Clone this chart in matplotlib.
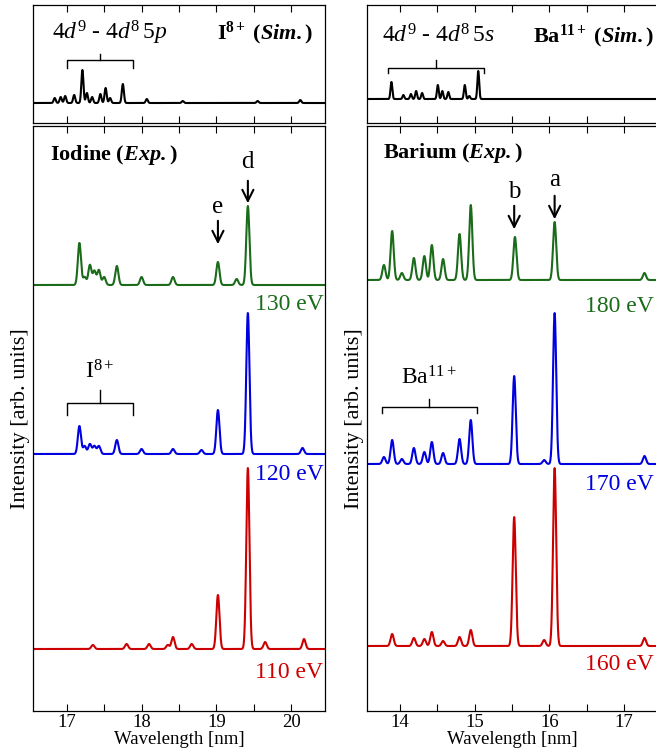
import numpy as np
import matplotlib
matplotlib.use("Agg")
import matplotlib.pyplot as plt
from matplotlib.ticker import MultipleLocator

plt.rcParams['font.family'] = ['Liberation Serif', 'DejaVu Serif']
plt.rcParams['mathtext.fontset'] = 'custom'
plt.rcParams['mathtext.rm'] = 'Liberation Serif'
plt.rcParams['mathtext.it'] = 'Liberation Serif:italic'
plt.rcParams['mathtext.bf'] = 'Liberation Serif:bold'
plt.rcParams['mathtext.bfit'] = 'Liberation Serif:bold:italic'

# --- peak tables (position nm, height in px-like units) ---
iodine_sim_pos = [16.84, 16.92, 16.98, 17.10, 17.21, 17.27, 17.34, 17.45, 17.52, 17.58, 17.75, 18.07, 18.55, 19.55, 20.12]
iodine_sim_amp = [5, 6, 7, 8, 33, 10, 6, 9, 15, 5, 19, 4, 2, 2, 3]

iodine_130_pos = [17.17, 17.24, 17.31, 17.37, 17.43, 17.50, 17.67, 18.00, 18.42, 19.02, 19.27, 19.42]
iodine_130_amp = [42, 8, 20, 14, 15, 8, 19, 8, 8, 23, 6, 79]
iodine_120_pos = [17.17, 17.24, 17.31, 17.37, 17.43, 17.67, 18.00, 18.42, 18.80, 19.02, 19.42, 20.15]
iodine_120_amp = [28, 8, 10, 8, 8, 14, 5, 5, 4, 44, 141, 6]
iodine_110_pos = [17.35, 17.80, 18.10, 18.35, 18.42, 18.67, 19.02, 19.42, 19.65, 20.17]
iodine_110_amp = [4, 5, 5, 4, 12, 5, 54, 181, 7, 10]

barium_sim_pos = [13.89, 14.05, 14.15, 14.22, 14.30, 14.51, 14.57, 14.65, 14.87, 14.93, 15.05]
barium_sim_amp = [17, 4, 5, 8, 6, 14, 8, 7, 14, 3, 28]

barium_180_pos = [13.79, 13.90, 14.03, 14.19, 14.33, 14.43, 14.58, 14.80, 14.95, 15.54, 16.07, 17.27]
barium_180_amp = [15, 49, 7, 22, 24, 35, 21, 46, 75, 43, 58, 7]
barium_170_pos = [13.79, 13.90, 14.03, 14.19, 14.33, 14.43, 14.58, 14.80, 14.95, 15.53, 15.93, 16.07, 17.27]
barium_170_amp = [7, 24, 5, 16, 12, 22, 11, 25, 44, 88, 4, 151, 8]
barium_160_pos = [13.90, 14.19, 14.33, 14.43, 14.58, 14.80, 14.95, 15.53, 15.93, 16.07, 17.27]
barium_160_amp = [12, 8, 7, 14, 5, 9, 16, 129, 6, 178, 8]

energies_I = ['130 eV', '120 eV', '110 eV']
energies_Ba = ['180 eV', '170 eV', '160 eV']
offsets_I = [426, 257, 62]
offsets_Ba = [431, 247, 65]
colors = ['#1a6b1a', '#0000e0', '#cc0000']

ARROW = dict(arrowstyle='->,head_length=0.8,head_width=0.4', lw=1.5, color='k')


def spectrum(x, pos, amp, width):
    y = np.zeros_like(x)
    for p, a in zip(pos, amp):
        y += a * np.exp(-0.5 * ((x - p) / width) ** 2)
    return y


def style(ax, xlim, labels=True):
    ax.set_xlim(*xlim)
    ax.xaxis.set_major_locator(MultipleLocator(1))
    ax.xaxis.set_minor_locator(MultipleLocator(0.5))
    ax.tick_params(axis='x', which='both', direction='in', top=True, bottom=True,
                   length=5, width=0.8, labelsize=13.5, labelbottom=labels, pad=2)
    ax.set_yticks([])
    for s in ax.spines.values():
        s.set_linewidth(0.9)


def bracket(ax, x0, x1, y, drop, rise, lw=1.0):
    xc = (x0 + x1) / 2
    ax.plot([x0, x0, x1, x1], [y - drop, y, y, y - drop], color='k', lw=lw)
    ax.plot([xc, xc], [y, y + rise], color='k', lw=lw)


fig = plt.figure(figsize=(6.56, 7.5), dpi=100)
W = 0.4451
axIt = fig.add_axes([0.0503, 0.836, W, 0.1573])
axI = fig.add_axes([0.0503, 0.052, W, 0.780])
axBt = fig.add_axes([0.559, 0.836, W, 0.1573])
axB = fig.add_axes([0.559, 0.052, W, 0.780])

xI = np.linspace(16.5, 20.5, 2000)
xB = np.linspace(13.5, 17.5, 2000)

# top simulated panels
axIt.plot(xI, 20 + spectrum(xI, iodine_sim_pos, iodine_sim_amp, 0.014), color='k', lw=1.5)
axIt.set_ylim(0, 118)
style(axIt, (16.55, 20.45), labels=False)
axIt.text(17.58, 90, r'$4d^9$ - $4d^8\,5p$', fontsize=17, ha='center', va='center')
axIt.text(20.30, 90, r'$\mathbf{I^{8+}}\ \mathbf{(}\mathbfit{Sim.}\mathbf{)}$', fontsize=16, ha='right', va='center')
bracket(axIt, 17.0, 17.88, 63, 8, 6)

axBt.plot(xB, 24 + spectrum(xB, barium_sim_pos, barium_sim_amp, 0.012), color='k', lw=1.5)
axBt.set_ylim(0, 118)
style(axBt, (13.56, 17.46), labels=False)
axBt.text(14.52, 87, r'$4d^9$ - $4d^8\,5s$', fontsize=17, ha='center', va='center')
axBt.text(17.40, 87, r'$\mathbf{Ba^{11+}}\ \mathbf{(}\mathbfit{Sim.}\mathbf{)}$', fontsize=16, ha='right', va='center')
bracket(axBt, 13.85, 15.13, 55, 5, 8)

# experimental iodine
iodine_sets = [(iodine_130_pos, iodine_130_amp), (iodine_120_pos, iodine_120_amp), (iodine_110_pos, iodine_110_amp)]
for (pos, amp), off, c, lab, ly in zip(iodine_sets, offsets_I, colors, energies_I, [406, 236, 39]):
    axI.plot(xI, off + spectrum(xI, pos, amp, 0.021), color=c, lw=1.5)
    axI.text(20.43, ly, lab, color=c, fontsize=17, ha='right', va='center')
axI.set_ylim(0, 585)
style(axI, (16.55, 20.45))
axI.set_xlabel('Wavelength [nm]', fontsize=13.5, labelpad=0)
axI.set_ylabel('Intensity [arb. units]', fontsize=16, labelpad=2)
axI.text(16.78, 556, r'$\mathbf{Iodine\ (}\mathbfit{Exp.}\mathbf{)}$', fontsize=16, ha='left', va='center')
for px, lab, ytxt, y0, y1 in [(19.42, 'd', 549, 533, 505), (19.02, 'e', 504, 493, 464)]:
    axI.text(px, ytxt, lab, fontsize=18, ha='center', va='center')
    axI.annotate('', xy=(px, y1), xytext=(px, y0), arrowprops=ARROW)
bracket(axI, 17.0, 17.88, 308, 12, 13)
axI.text(17.44, 339, r'I$^{8+}$', fontsize=17, ha='center', va='center')

# experimental barium
barium_sets = [(barium_180_pos, barium_180_amp), (barium_170_pos, barium_170_amp), (barium_160_pos, barium_160_amp)]
for (pos, amp), off, c, lab, ly in zip(barium_sets, offsets_Ba, colors, energies_Ba, [404, 226, 46]):
    axB.plot(xB, off + spectrum(xB, pos, amp, 0.021), color=c, lw=1.5)
    axB.text(17.39, ly, lab, color=c, fontsize=17, ha='right', va='center')
axB.set_ylim(0, 585)
style(axB, (13.56, 17.46))
axB.set_xlabel('Wavelength [nm]', fontsize=13.5, labelpad=0)
axB.set_ylabel('Intensity [arb. units]', fontsize=16, labelpad=2)
axB.text(13.78, 558, r'$\mathbf{Barium\ (}\mathbfit{Exp.}\mathbf{)}$', fontsize=16, ha='left', va='center')
for px, lab, ytxt, y0, y1 in [(15.53, 'b', 519, 508, 479), (16.07, 'a', 531, 518, 489)]:
    axB.text(px, ytxt, lab, fontsize=18, ha='center', va='center')
    axB.annotate('', xy=(px, y1), xytext=(px, y0), arrowprops=ARROW)
bracket(axB, 13.76, 15.03, 304, 6, 8)
axB.text(14.39, 333, r'Ba$^{11+}$', fontsize=17, ha='center', va='center')

fig.savefig('out.png', dpi=100)
